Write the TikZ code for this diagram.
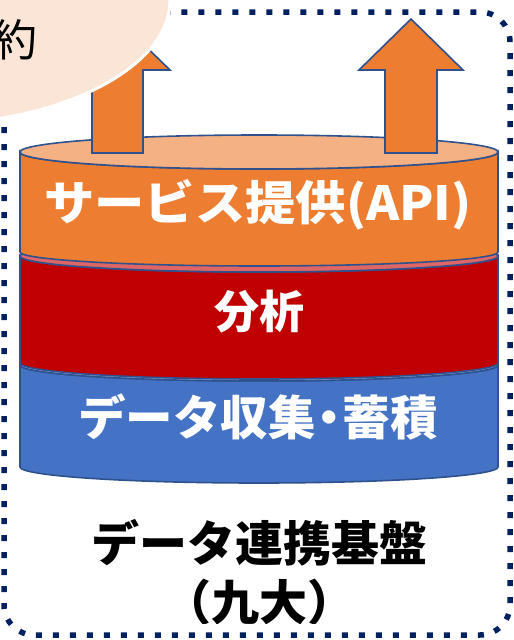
\documentclass[tikz,border=0pt]{standalone}
\usepackage{fontspec}
\newfontfamily\jp{Noto Sans CJK JP}
\definecolor{navy}{HTML}{002060}
\definecolor{edge}{HTML}{2F528F}
\definecolor{org}{HTML}{ED7D31}
\definecolor{orgtop}{HTML}{F4B183}
\definecolor{redc}{HTML}{C00000}
\definecolor{redtop}{HTML}{E06666}
\definecolor{bluec}{HTML}{4472C4}
\definecolor{bluetop}{HTML}{8FAADC}
\definecolor{peach}{HTML}{FBE5D6}
\tikzset{
  cyl/.style={draw=edge, line width=1.6pt},
  uparrow/.style={draw=edge, line width=1.6pt, fill=org, line join=miter},
  label/.style={font=\jp\bfseries, text=white, inner sep=0pt},
}
\begin{document}
\begin{tikzpicture}[x=1pt,y=-1pt]
\useasboundingbox (0,0) rectangle (514,640);
\fill[white] (0,0) rectangle (514,640);
% frame
\draw[navy, line width=5.5pt, dash pattern=on 6pt off 11pt, rounded corners=30pt] (4,12) rectangle (510,635);
% blue cylinder
\path[cyl, fill=bluec] (20,365) -- (20,467) arc[start angle=180,end angle=0,x radius=239,y radius=16] -- (498,365) arc[start angle=0,end angle=180,x radius=239,y radius=16] -- cycle;
\path[cyl, fill=bluetop] (259,365) ellipse[x radius=239, y radius=16];
% red cylinder
\path[cyl, fill=redc] (20,256) -- (20,363) arc[start angle=180,end angle=0,x radius=239,y radius=16] -- (498,256) arc[start angle=0,end angle=180,x radius=239,y radius=16] -- cycle;
\path[cyl, fill=redtop] (259,256) ellipse[x radius=239, y radius=16];
% orange cylinder
\path[cyl, fill=org] (20,152) -- (20,252) arc[start angle=180,end angle=0,x radius=239,y radius=14] -- (498,152) arc[start angle=0,end angle=180,x radius=239,y radius=17] -- cycle;
\path[cyl, fill=orgtop] (259,152) ellipse[x radius=239, y radius=17];
% arrows
\path[uparrow] (92,153) -- (92,70) -- (65,70) -- (117.5,19) -- (170,70) -- (143,70) -- (143,153) -- cycle;
\path[uparrow] (385,153) -- (385,70) -- (359,70) -- (411,19) -- (463,70) -- (437,70) -- (437,153) -- cycle;
% peach ellipse
\path[fill=peach, draw=white, line width=3pt] (-80,0) ellipse[x radius=250, y radius=125];
\node[font=\jp, text=black, inner sep=0pt, anchor=east] (yaku) at (38,40) {\fontsize{44}{44}\selectfont 約};
% labels
\node[label, xscale=1.07] (api) at (258,205) {\fontsize{47}{47}\selectfont サービス提供(API)};
\node[label] (bunseki) at (259,312) {\fontsize{45}{45}\selectfont 分析};
\node[label] (shushu) at (258,417) {\fontsize{47.5}{47.5}\selectfont データ収集\kern-0.22em・\kern-0.22em 蓄積};
\node[label, text=black] (kiban) at (259,543) {\fontsize{48}{48}\selectfont データ連携基盤};
\begin{scope}
\clip (0,560) rectangle (514,623);
\node[label, text=black] (kyudai) at (259,602) {\fontsize{48}{48}\selectfont （九大）};
\end{scope}
\end{tikzpicture}
\end{document}
